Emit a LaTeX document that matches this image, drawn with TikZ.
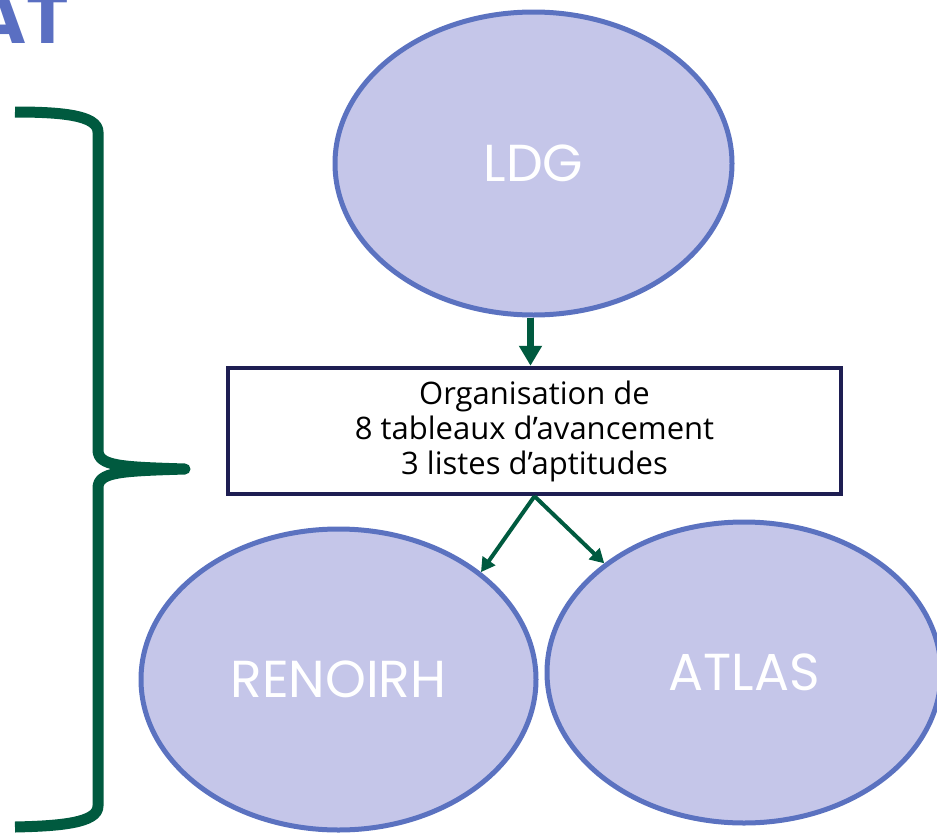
\documentclass[tikz,border=0pt]{standalone}
\usepackage{fontspec}
\setmainfont{Open Sans}[Ligatures=NoCommon]
\newfontfamily\labelfont{Poppins}
\usetikzlibrary{shapes.geometric,arrows.meta}
\definecolor{bluet}{HTML}{5A6FC2}
\definecolor{ellfill}{HTML}{C5C6E9}
\definecolor{elldraw}{HTML}{5B72C0}
\definecolor{darkgreen}{HTML}{005A3F}
\definecolor{navy}{HTML}{1E1E52}
\tikzset{
  bubble/.style={ellipse, draw=elldraw, fill=ellfill, line width=5pt, inner sep=0pt,
    text=white, font=\labelfont\fontsize{52}{56}\selectfont},
  flowbox/.style={rectangle, draw=navy, fill=white, line width=4.5pt, inner sep=0pt,
    minimum width=613pt, minimum height=126pt, align=center,
    font=\fontsize{31}{35}\selectfont},
  thickarrow/.style={darkgreen, line width=7pt, -{Triangle[length=20pt,width=22pt]}},
  thinarrow/.style={darkgreen, line width=4pt, -{Triangle[length=14pt,width=15pt]}},
  bracestyle/.style={darkgreen, line width=11pt, line join=round}
}
\begin{document}
\begin{tikzpicture}[x=1pt,y=-1pt]
\useasboundingbox (0,0) rectangle (937,833);
\node[anchor=base east, text=bluet, inner sep=0pt] (title) at (69,43) {\labelfont\bfseries\fontsize{72}{74}\selectfont AT};
\node[bubble, minimum width=397pt, minimum height=303pt] (ldg) at (533.5,163.5) {LDG};
\node[bubble, minimum width=395pt, minimum height=301pt] (renoirh) at (338.5,679.5) {RENOIRH};
\node[bubble, minimum width=394pt, minimum height=301pt] (atlas) at (744,672.5) {ATLAS};
\node[flowbox] (box) at (534.5,431) {Organisation de\\8 tableaux d’avancement\\3 listes d’aptitudes};
\coordinate (ldgout) at ([xshift=-3pt]ldg.south);
\draw[thickarrow] (ldgout) -- (ldgout |- box.north);
\draw[thinarrow] (box.south) -- (renoirh.37.6);
\draw[thinarrow] (box.south) -- (atlas.142.3);
\draw[bracestyle] (15,112) .. controls (60,112) and (98,115) .. (98,132) -- (98,450)
  .. controls (98,466) and (120,467) .. (185,469)
  .. controls (120,471) and (98,472) .. (98,488) -- (98,806)
  .. controls (98,823) and (60,826) .. (15,827);
\end{tikzpicture}
\end{document}
